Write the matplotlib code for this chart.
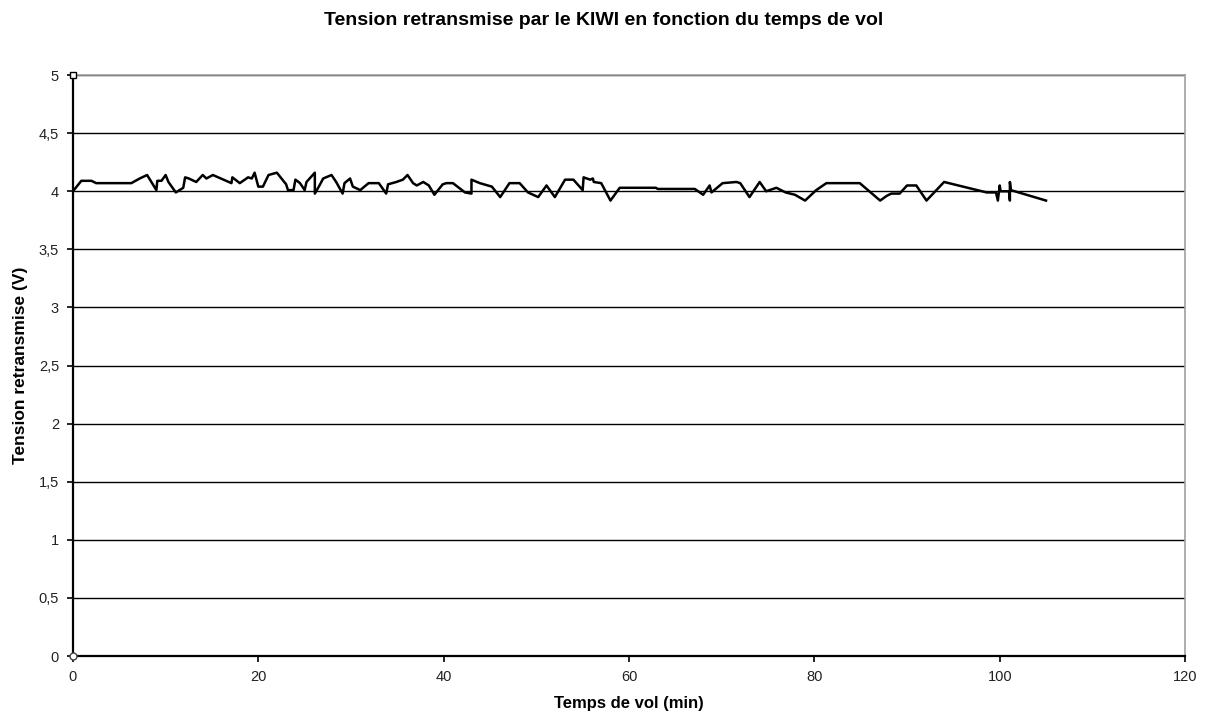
import matplotlib.pyplot as plt
from matplotlib.ticker import FuncFormatter, MultipleLocator

# Temps de vol (min)
temps = [0, 0.9, 2.0, 2.5, 6.3, 7.2, 8.0, 9.0, 9.1, 9.55, 10.0, 10.3, 11.1, 11.9,
         12.1, 12.5, 13.3, 14.0, 14.4, 15.1, 17.1, 17.2, 18.0, 18.9, 19.3, 19.6,
         20.0, 20.5, 21.1, 22.0, 23.0, 23.2, 23.8, 24.0, 24.5, 25.0, 25.2, 26.1,
         26.1, 26.6, 27.0, 27.9, 28.4, 29.1, 29.3, 29.9, 30.2, 31.0, 31.9, 33.0,
         33.8, 34.0, 34.9, 35.6, 36.1, 36.7, 37.1, 37.8, 38.4, 39.0, 39.9, 40.3,
         41.0, 42.3, 43.0, 43.0, 43.9, 45.2, 46.1, 47.1, 48.2, 49.1, 50.2, 51.1,
         52.0, 53.1, 54.0, 55.0, 55.1, 55.8, 56.1, 56.2, 57.0, 58.0, 59.0, 62.9,
         63.1, 67.1, 68.0, 68.7, 68.9, 70.1, 71.6, 72.0, 73.0, 74.1, 74.8, 75.9,
         76.9, 77.9, 79.0, 80.2, 81.3, 84.9, 87.1, 87.8, 88.3, 89.2, 90.0, 91.0,
         92.1, 94.0, 98.6, 99.6, 99.8, 100.0, 100.1, 101.0, 101.1, 101.1, 101.2,
         105.0]

# Tension retransmise (V)
tension = [4.00, 4.09, 4.09, 4.07, 4.07, 4.11, 4.14, 4.01, 4.09, 4.09, 4.14, 4.08,
           3.99, 4.03, 4.12, 4.11, 4.08, 4.14, 4.11, 4.14, 4.07, 4.12, 4.07, 4.12,
           4.11, 4.16, 4.04, 4.04, 4.14, 4.16, 4.06, 4.01, 4.01, 4.10, 4.07, 4.01,
           4.08, 4.16, 3.98, 4.05, 4.11, 4.14, 4.08, 3.98, 4.07, 4.11, 4.04, 4.01,
           4.07, 4.07, 3.98, 4.06, 4.08, 4.10, 4.14, 4.07, 4.05, 4.08, 4.05, 3.97,
           4.06, 4.07, 4.07, 3.99, 3.98, 4.10, 4.07, 4.04, 3.95, 4.07, 4.07, 3.99,
           3.95, 4.05, 3.95, 4.10, 4.10, 4.01, 4.12, 4.10, 4.11, 4.08, 4.07, 3.92,
           4.03, 4.03, 4.02, 4.02, 3.97, 4.05, 3.99, 4.07, 4.08, 4.07, 3.95, 4.08,
           4.00, 4.03, 3.99, 3.97, 3.92, 4.01, 4.07, 4.07, 3.92, 3.96, 3.98, 3.98,
           4.05, 4.05, 3.92, 4.08, 3.99, 3.99, 3.92, 4.05, 4.00, 4.00, 3.92, 4.08,
           4.01, 3.92]

x_ticks = [0, 20, 40, 60, 80, 100, 120]

plt.rcParams['font.family'] = ['Liberation Sans', 'DejaVu Sans']

fig = plt.figure(figsize=(12.08, 7.22), dpi=100)
ax = fig.add_axes([0.0604, 0.0914, 0.9206, 0.8046])

ax.set_xlim(0, 120)
ax.set_ylim(0, 5)
ax.set_xticks(x_ticks)
ax.yaxis.set_major_locator(MultipleLocator(0.5))
ax.yaxis.set_major_formatter(FuncFormatter(lambda v, p: f"{v:g}".replace('.', ',')))

# Grille horizontale noire
ax.grid(axis='y', color='black', linewidth=1.0)
ax.set_axisbelow(True)

ax.plot(temps, tension, color='black', linewidth=1.8, zorder=3)

# Cadre
for s in ['top', 'right']:
    ax.spines[s].set_color('#a0a0a0')
    ax.spines[s].set_linewidth(1.2)
for s in ['left', 'bottom']:
    ax.spines[s].set_color('black')
    ax.spines[s].set_linewidth(1.6)

ax.tick_params(direction='out', length=4, width=1.2, colors='black',
               labelsize=10.5, labelcolor='#222222', pad=6)

ax.set_xlabel("Temps de vol (min)", fontsize=12, fontweight='bold', labelpad=9)
ax.set_ylabel("Tension retransmise (V)", fontsize=12.5, fontweight='bold', labelpad=8)
fig.suptitle("Tension retransmise par le KIWI en fonction du temps de vol",
             fontsize=14, fontweight='bold', y=0.983)

ax.plot([0], [5], marker='s', markersize=4, markerfacecolor='white',
        markeredgecolor='black', clip_on=False, zorder=4)
ax.plot([0], [0], marker='o', markersize=5, markerfacecolor='white',
        markeredgecolor='#444444', clip_on=False, zorder=4)

fig.savefig("out.png", dpi=100, facecolor='white')
